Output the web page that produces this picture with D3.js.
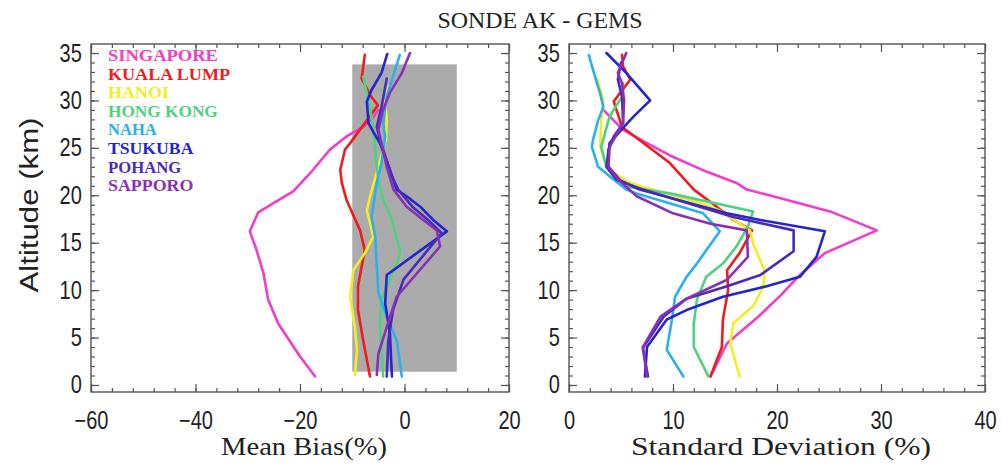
<!DOCTYPE html>
<html><head><meta charset="utf-8">
<script src="https://cdn.jsdelivr.net/npm/d3@7"></script>
<style>body{margin:0;background:#fff}</style>
</head><body>
<svg id="c" width="1003" height="465"></svg>
<script>
// ---- data: [altitude km, value] ----
const stations = ["SINGAPORE","KUALA LUMP","HANOI","HONG KONG","NAHA","TSUKUBA","POHANG","SAPPORO"];
const colors = ["#f23ccb","#f01c1c","#f2ee22","#4fd27e","#2bb0ee","#2424d0","#4a2ab8","#8a2fb8"];

const biasSingapore = [[0.9,-17.1],[3.0,-20.0],[6.5,-24.2],[9.0,-26.1],[11.8,-27.0],[14.2,-28.3],[16.2,-29.6],[18.2,-28.0],[19.2,-25.0],[20.4,-21.3],[22.3,-18.1],[24.8,-14.3],[26.2,-11.1],[27.2,-7.9],[28.0,-6.3],[29.0,-5.0]];
const biasKuala = [[0.9,-6.6],[4.7,-7.9],[7.9,-8.9],[10.4,-8.9],[12.5,-8.2],[14.2,-7.6],[16.3,-8.5],[19.5,-11.1],[21.3,-12.0],[22.7,-12.3],[24.8,-11.4],[25.5,-10.4],[27.9,-7.2],[29.5,-5.1],[30.5,-6.5],[32.3,-8.2],[34.8,-7.6]];
const biasHanoi = [[1.05,-9.5],[3.7,-9.1],[6.1,-9.5],[9.3,-10.4],[12.1,-9.8],[13.9,-7.6],[15.6,-6.0],[17.1,-6.6],[18.4,-7.2],[19.9,-6.6],[23.0,-5.0],[26.0,-3.5],[28.3,-3.4],[29.7,-3.7],[31.5,-3.0]];
const biasHongKong = [[0.9,-4.1],[3.7,-4.4],[6.1,-4.7],[9.0,-4.4],[11.1,-2.8],[13.2,-1.2],[14.2,-0.9],[17.4,-2.4],[19.5,-4.1],[21.6,-5.0],[24.8,-5.6],[27.2,-6.0],[30.2,-7.0],[32.5,-7.9]];
const biasNaha = [[0.9,-0.5],[4.7,-1.5],[7.2,-3.4],[9.7,-5.0],[12.5,-5.3],[15.6,-5.6],[17.7,-6.3],[18.8,-6.0],[21.3,-5.3],[23.4,-4.4],[26.2,-3.7],[27.6,-4.1],[30.4,-3.4],[32.5,-2.2],[34.8,-0.9]];
const biasTsukuba = [[0.9,-2.4],[5.5,-2.8],[8.6,-3.7],[11.6,-3.4],[16.2,8.1],[17.4,5.5],[18.8,3.0],[19.9,0.4],[20.6,-1.5],[22.7,-2.8],[25.5,-4.7],[26.7,-6.0],[27.6,-6.9],[29.9,-7.2],[31.1,-6.3],[32.9,-4.4],[34.9,-3.3]];
const biasPohang = [[0.9,-3.4],[4.7,-3.1],[7.9,-2.2],[11.1,-0.2],[16.0,7.1],[17.4,4.5],[18.8,1.5],[20.6,-1.2],[22.0,-2.4],[25.8,-4.7],[27.2,-5.3],[29.3,-4.4],[32.3,-3.4]];
const biasSapporo = [[1.05,-5.3],[3.3,-5.0],[6.1,-3.4],[9.3,-1.5],[14.6,6.8],[16.3,6.2],[17.4,3.6],[18.8,0.4],[20.6,-2.1],[23.0,-3.4],[26.9,-5.0],[29.0,-4.1],[30.8,-2.8],[32.9,-0.5],[35.0,1.05]];

const sdSingapore = [[0.9,13.6],[4.4,15.2],[7.2,18.2],[9.5,20.4],[11.6,22.2],[13.9,24.6],[16.3,29.6],[18.3,25.1],[19.9,19.6],[20.6,17.1],[21.3,16.1],[22.5,13.2],[24.2,9.7],[25.5,7.5],[26.9,5.2],[29.0,3.3]];
const sdKuala = [[0.9,13.6],[4.0,14.7],[6.9,14.8],[10.0,15.3],[12.1,15.2],[13.9,16.4],[16.3,17.6],[17.4,15.8],[18.8,14.2],[20.6,12.0],[23.4,9.7],[25.8,6.8],[27.2,5.1],[29.9,4.3],[32.2,5.9],[33.6,5.2],[34.8,5.1]];
const sdHanoi = [[0.9,16.4],[4.4,15.5],[6.5,15.8],[8.3,17.7],[10.4,18.7],[12.1,18.8],[14.9,17.7],[16.3,17.4],[18.4,14.5],[19.2,12.6],[20.9,7.0],[21.5,5.5],[23.0,3.6],[25.1,3.0],[27.9,3.1],[30.0,3.3],[32.3,2.7]];
const sdHongKong = [[0.9,13.4],[4.0,12.0],[6.5,12.0],[9.0,12.3],[11.4,13.2],[12.8,14.8],[14.6,16.1],[16.7,17.2],[18.3,17.7],[20.2,9.7],[20.9,5.5],[23.0,3.6],[25.1,3.1],[28.3,3.9],[30.4,5.1],[31.8,5.2]];
const sdNaha = [[0.9,11.0],[3.7,9.4],[6.9,9.9],[9.3,10.2],[11.4,11.3],[12.8,12.3],[14.2,13.2],[16.2,14.5],[18.1,12.9],[20.2,6.5],[20.6,5.5],[22.0,3.9],[23.0,2.8],[25.1,2.2],[25.8,2.3],[27.9,2.8],[29.3,3.3],[30.7,3.0],[32.5,2.5],[34.8,1.9]];
const sdTsukuba = [[0.9,7.3],[4.0,7.5],[6.9,9.4],[7.9,11.3],[9.3,14.8],[10.4,19.0],[11.4,22.2],[13.5,23.8],[16.2,24.6],[17.4,18.4],[18.1,15.2],[20.6,6.8],[21.6,4.9],[23.0,3.8],[24.4,3.8],[25.5,3.9],[27.1,5.2],[28.3,6.2],[30.0,7.8],[32.9,5.5],[35.0,3.6]];
const sdPohang = [[0.9,7.6],[3.9,7.1],[7.2,9.1],[9.1,11.3],[10.4,15.2],[11.6,18.4],[14.1,21.6],[16.3,21.6],[17.7,15.8],[20.6,7.1],[21.6,4.6],[23.0,3.6],[24.8,3.8],[26.2,4.3],[27.6,5.2],[30.4,5.1],[32.2,4.7],[34.0,5.0]];
const sdSapporo = [[0.9,7.5],[4.0,7.1],[7.2,8.8],[9.1,11.3],[11.1,15.2],[13.5,17.2],[16.3,17.1],[17.0,13.6],[18.1,10.0],[19.9,6.5],[21.6,4.8],[23.0,3.8],[25.1,3.9],[27.6,5.2],[30.0,5.3],[31.8,5.1],[32.9,4.7],[35.0,5.5]];

const biasSeries = [biasSingapore,biasKuala,biasHanoi,biasHongKong,biasNaha,biasTsukuba,biasPohang,biasSapporo];
const sdSeries = [sdSingapore,sdKuala,sdHanoi,sdHongKong,sdNaha,sdTsukuba,sdPohang,sdSapporo];

const altTicks = [0,5,10,15,20,25,30,35];
const biasTicks = [-60,-40,-20,0,20];
const sdTicks = [0,10,20,30,40];
const bandBias = [-10,10];
const bandAlt = [1.4,33.8];

const title = "SONDE AK - GEMS";
const yTitle = "Altitude (km)";
const xTitleL = "Mean Bias(%)";
const xTitleR = "Standard Deviation (%)";

// ---- layout ----
const svg = d3.select("#c");
svg.append("rect").attr("width",1003).attr("height",465).attr("fill","#fff");
const yTop = 44, yBot = 392;
const y = d3.scaleLinear().domain([-0.74,35.95]).range([yBot, yTop]);
const xL = d3.scaleLinear().domain([-60,20]).range([91,509]);
const xR = d3.scaleLinear().domain([0,40]).range([569,985]);
const frameColor = "#555";
const serif = "Liberation Serif, Times New Roman, serif";
const sans = "Liberation Sans, Arial, sans-serif";

function minorRange(a,b,step){const r=[];for(let v=a;v<=b+1e-9;v+=step)r.push(+v.toFixed(4));return r;}

function panel(x, xTicks, xMinorStep, series, showBand, xTitle, titleWidth){
  const g = svg.append("g");
  const [x0,x1] = x.range();
  if (showBand) {
    g.append("rect").attr("x",x(bandBias[0])).attr("y",y(bandAlt[1]))
      .attr("width",x(bandBias[1])-x(bandBias[0])).attr("height",y(bandAlt[0])-y(bandAlt[1]))
      .attr("fill","#ababab");
  }
  const line = d3.line().x(d=>x(d[1])).y(d=>y(d[0]));
  series.forEach((s,i)=>{
    g.append("path").attr("d",line(s)).attr("fill","none").attr("stroke",colors[i])
      .attr("stroke-width",2.6).attr("stroke-linejoin","round").attr("stroke-linecap","round");
  });
  const d = x.domain();
  const xMinor = minorRange(d[0],d[1],xMinorStep);
  const yMinor = minorRange(0,35,1);
  const mk = (axis, tr, vals, size) => {
    const a = g.append("g").attr("transform",tr).call(axis.tickValues(vals).tickSize(-size).tickFormat(""));
    a.select(".domain").remove();
    a.selectAll("line").attr("stroke",frameColor).attr("stroke-width",1.2);
    return a;
  };
  mk(d3.axisBottom(x), `translate(0,${yBot})`, xMinor, 4);
  mk(d3.axisTop(x), `translate(0,${yTop})`, xMinor, 4);
  mk(d3.axisLeft(y), `translate(${x0},0)`, yMinor, 4);
  mk(d3.axisRight(y), `translate(${x1},0)`, yMinor, 4);
  mk(d3.axisTop(x), `translate(0,${yTop})`, xTicks, 8);
  mk(d3.axisRight(y), `translate(${x1},0)`, altTicks, 8);
  const ab = g.append("g").attr("transform",`translate(0,${yBot})`)
    .call(d3.axisBottom(x).tickValues(xTicks).tickSize(-8).tickPadding(19).tickFormat(v=>String(v).replace("-","\u2212")));
  ab.select(".domain").remove();
  ab.selectAll("line").attr("stroke",frameColor).attr("stroke-width",1.2);
  ab.selectAll("text").attr("font-family",sans).attr("font-size",25)
    .attr("fill","#222").attr("transform","scale(0.8,1)");
  const al = g.append("g").attr("transform",`translate(${x0},0)`)
    .call(d3.axisLeft(y).tickValues(altTicks).tickSize(-8).tickPadding(11.5));
  al.select(".domain").remove();
  al.selectAll("line").attr("stroke",frameColor).attr("stroke-width",1.2);
  al.selectAll("text").attr("font-family",sans).attr("font-size",25)
    .attr("fill","#222").attr("transform","scale(0.8,1)");
  g.append("rect").attr("x",x0).attr("y",yTop).attr("width",x1-x0).attr("height",yBot-yTop)
    .attr("fill","none").attr("stroke",frameColor).attr("stroke-width",1.4);
  g.append("text").text(xTitle).attr("text-anchor","middle")
    .attr("textLength",titleWidth).attr("lengthAdjust","spacingAndGlyphs")
    .attr("transform",`translate(${(x0+x1)/2+4},455) scale(1,1.1)`)
    .attr("font-family",serif).attr("font-size",22).attr("fill","#222");
}

panel(xL, biasTicks, 4, biasSeries, true, xTitleL, 166);
panel(xR, sdTicks, 2, sdSeries, false, xTitleR, 300);

svg.append("text").text(title).attr("text-anchor","middle")
  .attr("textLength",205).attr("lengthAdjust","spacingAndGlyphs")
  .attr("transform","translate(540,28) scale(1,1.05)")
  .attr("font-family",serif).attr("font-size",21).attr("fill","#222");

svg.append("text").text(yTitle).attr("text-anchor","middle")
  .attr("transform","translate(38,205) rotate(-90) scale(1.2,1)")
  .attr("font-family",sans).attr("font-size",26).attr("fill","#222");

stations.forEach((s,i)=>{
  svg.append("text").text(s)
    .attr("x",108).attr("y",61+i*18.6)
    .attr("textLength",s.length*12.2).attr("lengthAdjust","spacingAndGlyphs")
    .attr("font-family",serif).attr("font-size",16).attr("font-weight","bold")
    .attr("fill",colors[i]);
});
</script>
</body></html>
